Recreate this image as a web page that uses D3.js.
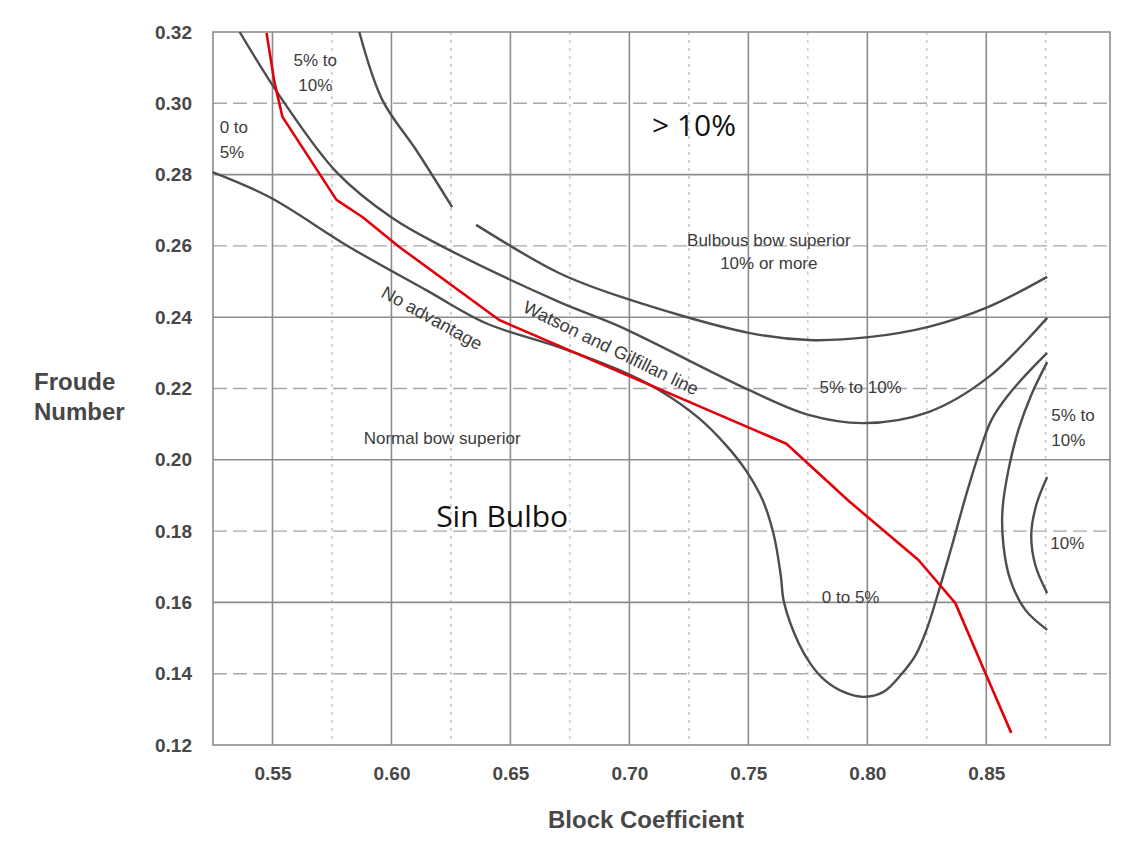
<!doctype html>
<html lang="en">
  <head>
    <meta charset="utf-8">
    <title>Bulbous bow chart</title>
    <style>
      body { margin: 0; background: #fff; }
      .tick text { font-family: "Liberation Sans", Arial, sans-serif; font-weight: bold; font-size: 19px; fill: #474747; }
      .note { font-family: "Liberation Sans", Arial, sans-serif; font-size: 17px; fill: #3c3c3c; }
      .slant { font-size: 18px; }
      .big { font-family: "Open Sans", "Noto Sans", sans-serif; font-size: 30px; fill: #111; }
      .title { font-family: "Liberation Sans", Arial, sans-serif; font-weight: bold; font-size: 24px; fill: #474747; }
    </style>
  </head>
  <body>
    <div id="chart"></div>

    <script src="https://cdn.jsdelivr.net/npm/d3@7"></script>
    <script type="text/javascript">
      const w = 1139;
      const h = 857;

      // tick values
      const xTicks = [0.55, 0.60, 0.65, 0.70, 0.75, 0.80, 0.85];
      const xMinor = [0.575, 0.625, 0.675, 0.725, 0.775, 0.825, 0.875];
      const yTicks = [0.12, 0.14, 0.16, 0.18, 0.20, 0.22, 0.24, 0.26, 0.28, 0.30, 0.32];
      const ySolid = [0.16, 0.20, 0.24, 0.28];
      const yDashed = [0.14, 0.18, 0.22, 0.26, 0.30];

      // curves [Cb, Fn]
      const upperTop = [[0.5865, 0.320], [0.5962, 0.3009], [0.6104, 0.2869], [0.6255, 0.2709]];
      const upperArc = [[0.6356, 0.2659], [0.6704, 0.2524], [0.6956, 0.2459], [0.7502, 0.2356], [0.7753, 0.2336],
        [0.8005, 0.2344], [0.8257, 0.2373], [0.8509, 0.2429], [0.8756, 0.2513]];
      const middleCurve = [[0.5362, 0.320], [0.5542, 0.3009], [0.5769, 0.2807], [0.6004, 0.2678], [0.6201, 0.2603],
        [0.6704, 0.2443], [0.6956, 0.2375], [0.7502, 0.2196], [0.7753, 0.2126], [0.7984, 0.2103],
        [0.8257, 0.2134], [0.8509, 0.2232], [0.8756, 0.2398]];
      const noAdvantage = [[0.5248, 0.2807], [0.5487, 0.2737], [0.5823, 0.2597], [0.6146, 0.2476], [0.6398, 0.2383],
        [0.6704, 0.2316], [0.6956, 0.2252], [0.7124, 0.2196], [0.7292, 0.2117], [0.7405, 0.2042],
        [0.7489, 0.1971], [0.7560, 0.1887], [0.7607, 0.1789], [0.7636, 0.1677], [0.7650, 0.1600],
        [0.7711, 0.1486], [0.7762, 0.1427], [0.7821, 0.1382], [0.7900, 0.1349], [0.7984, 0.1335],
        [0.8068, 0.1349], [0.8144, 0.1399], [0.8203, 0.1452], [0.8249, 0.1523], [0.8299, 0.1629],
        [0.8354, 0.1755], [0.8413, 0.1896], [0.8467, 0.2013], [0.8522, 0.2112], [0.8593, 0.2182],
        [0.8677, 0.2246], [0.8756, 0.2300]];
      const rightArc = [[0.8756, 0.2274], [0.8689, 0.2182], [0.8635, 0.2084], [0.8593, 0.1971], [0.8568, 0.1859],
        [0.8572, 0.1761], [0.8601, 0.1663], [0.8664, 0.1579], [0.8756, 0.1523]];
      const innerArc = [[0.8756, 0.1952], [0.8710, 0.1873], [0.8689, 0.1789], [0.8706, 0.1705], [0.8756, 0.1626]];
      const sinBulbo = [[0.5475, 0.3197], [0.5508, 0.3060], [0.5542, 0.2962], [0.5769, 0.2729], [0.5878, 0.2681],
        [0.6033, 0.2597], [0.6453, 0.2392], [0.7660, 0.2045], [0.7921, 0.1885], [0.8215, 0.1719],
        [0.8370, 0.1598], [0.8496, 0.1402], [0.8605, 0.1234]];

      // annotations [text, Cb, Fn]
      const notes = [
        ["5% to", 0.5680, 0.3121], ["10%", 0.5680, 0.3051],
        ["Bulbous bow superior", 0.7586, 0.2617], ["10% or more", 0.7586, 0.2552],
        ["Normal bow superior", 0.6213, 0.2061],
        ["5% to 10%", 0.7972, 0.2204],
        ["0 to 5%", 0.7930, 0.1615]
      ];
      const leftNotes = [
        ["0 to", 0.5278, 0.2934], ["5%", 0.5278, 0.2863],
        ["5% to", 0.8773, 0.2126], ["10%", 0.8773, 0.2056],
        ["10%", 0.8769, 0.1767]
      ];
      const slanted = [["No advantage", 0.6171, 0.2398, 29], ["Watson and Gilfillan line", 0.6923, 0.2314, 26]];
      const bigNotes = [["> 10%", 0.7095, 0.2939], ["Sin Bulbo", 0.6188, 0.1840]];

      const svg = d3.select('#chart')
                    .append('svg')
                    .attr('width', w)
                    .attr('height', h);

      const x = d3.scaleLinear().domain([0.525, 0.902]).range([213, 1110]);
      const y = d3.scaleLinear().domain([0.12, 0.32]).range([745, 32]);

      // grid
      const grid = svg.append('g');
      grid.selectAll('.vminor')
        .data(xMinor)
        .enter()
        .append('line')
        .attr('x1', d => x(d)).attr('x2', d => x(d))
        .attr('y1', y(0.32)).attr('y2', y(0.12))
        .attr('stroke', '#b8b8b8')
        .attr('stroke-width', 1.2)
        .attr('stroke-dasharray', '3,5');

      grid.selectAll('.hdash')
        .data(yDashed)
        .enter()
        .append('line')
        .attr('x1', x(0.525)).attr('x2', x(0.902))
        .attr('y1', d => y(d)).attr('y2', d => y(d))
        .attr('stroke', '#a8a8a8')
        .attr('stroke-width', 1.4)
        .attr('stroke-dasharray', '14,6');

      grid.selectAll('.vmajor')
        .data(xTicks)
        .enter()
        .append('line')
        .attr('x1', d => x(d)).attr('x2', d => x(d))
        .attr('y1', y(0.32)).attr('y2', y(0.12))
        .attr('stroke', '#8c8c8c')
        .attr('stroke-width', 1.6);

      grid.selectAll('.hmajor')
        .data(ySolid)
        .enter()
        .append('line')
        .attr('x1', x(0.525)).attr('x2', x(0.902))
        .attr('y1', d => y(d)).attr('y2', d => y(d))
        .attr('stroke', '#8c8c8c')
        .attr('stroke-width', 1.6);

      // frame
      svg.append('rect')
        .attr('x', x(0.525))
        .attr('y', y(0.32))
        .attr('width', x(0.902) - x(0.525))
        .attr('height', y(0.12) - y(0.32))
        .attr('fill', 'none')
        .attr('stroke', '#8c8c8c')
        .attr('stroke-width', 1.6);

      // axes
      const xAxis = svg.append('g')
        .attr('transform', `translate(0,${y(0.12)})`)
        .call(d3.axisBottom(x).tickValues(xTicks).tickFormat(d3.format('.2f')).tickSize(0).tickPadding(22));
      xAxis.select('.domain').remove();

      const yAxis = svg.append('g')
        .attr('transform', `translate(${x(0.525)},0)`)
        .call(d3.axisLeft(y).tickValues(yTicks).tickFormat(d3.format('.2f')).tickSize(0).tickPadding(21));
      yAxis.select('.domain').remove();

      svg.append('text')
        .attr('class', 'title')
        .attr('x', 646)
        .attr('y', 828)
        .attr('text-anchor', 'middle')
        .text('Block Coefficient');

      svg.append('text')
        .attr('class', 'title')
        .attr('x', 34)
        .attr('y', 390)
        .text('Froude');
      svg.append('text')
        .attr('class', 'title')
        .attr('x', 34)
        .attr('y', 420)
        .text('Number');

      // grey curves
      const smooth = d3.line()
        .x(d => x(d[0]))
        .y(d => y(d[1]))
        .curve(d3.curveCatmullRom);

      svg.selectAll('.grey')
        .data([upperTop, upperArc, middleCurve, noAdvantage, rightArc, innerArc])
        .enter()
        .append('path')
        .attr('d', smooth)
        .attr('fill', 'none')
        .attr('stroke', '#4d4d4d')
        .attr('stroke-width', 2.4);

      // red line
      svg.append('path')
        .datum(sinBulbo)
        .attr('d', d3.line().x(d => x(d[0])).y(d => y(d[1])))
        .attr('fill', 'none')
        .attr('stroke', '#e3000b')
        .attr('stroke-width', 2.6)
        .attr('stroke-linejoin', 'round');

      // annotations
      svg.selectAll('.cnote')
        .data(notes)
        .enter()
        .append('text')
        .attr('class', 'note')
        .attr('x', d => x(d[1]))
        .attr('y', d => y(d[2]))
        .attr('dy', '0.35em')
        .attr('text-anchor', 'middle')
        .text(d => d[0]);

      svg.selectAll('.lnote')
        .data(leftNotes)
        .enter()
        .append('text')
        .attr('class', 'note')
        .attr('x', d => x(d[1]))
        .attr('y', d => y(d[2]))
        .attr('dy', '0.35em')
        .text(d => d[0]);

      svg.selectAll('.snote')
        .data(slanted)
        .enter()
        .append('text')
        .attr('class', 'note slant')
        .attr('text-anchor', 'middle')
        .attr('dy', '0.35em')
        .attr('transform', d => `translate(${x(d[1])},${y(d[2])}) rotate(${d[3]})`)
        .text(d => d[0]);

      svg.selectAll('.bnote')
        .data(bigNotes)
        .enter()
        .append('text')
        .attr('class', 'big')
        .attr('x', d => x(d[1]))
        .attr('y', d => y(d[2]))
        .attr('dy', '0.35em')
        .text(d => d[0]);
    </script>
  </body>
</html>
